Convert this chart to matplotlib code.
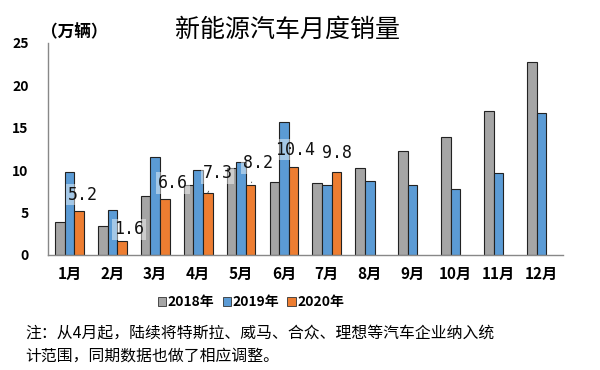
import numpy as np
import matplotlib
import matplotlib.pyplot as plt
from matplotlib.patches import Patch

matplotlib.use('agg')
plt.rcParams['font.family'] = ['Noto Sans CJK SC', 'DejaVu Sans']

months = ['1月', '2月', '3月', '4月', '5月', '6月', '7月', '8月', '9月', '10月', '11月', '12月']
sales_2018 = [3.9, 3.4, 6.9, 8.3, 10.3, 8.6, 8.5, 10.2, 12.2, 13.9, 17.0, 22.7]
sales_2019 = [9.8, 5.3, 11.6, 10.0, 10.9, 15.7, 8.3, 8.7, 8.2, 7.8, 9.7, 16.7]
sales_2020 = [5.2, 1.6, 6.6, 7.3, 8.2, 10.4, 9.8]
series_names = ['2018年', '2019年', '2020年']
colors = ['#A5A5A5', '#5B9BD5', '#ED7D31']

# label offsets (pixels) relative to top of the 2020 bars
label_dx = [4, 7, 8, 10, 7, 2, 1]
label_dy = [16, 12, 16, 20, 22, 17, 19]

fig = plt.figure(figsize=(6, 3.7), dpi=100)
ax = fig.add_axes([0.08, 0.311, 0.858, 0.573])

x = np.arange(len(months))
w = 0.224
ax.bar(x - w, sales_2018, w, color=colors[0], edgecolor='#222222', linewidth=0.8)
ax.bar(x, sales_2019, w, color=colors[1], edgecolor='#222222', linewidth=0.8)
x20 = x[:len(sales_2020)] + w
ax.bar(x20, sales_2020, w, color=colors[2], edgecolor='#222222', linewidth=0.8)

for i, v in enumerate(sales_2020):
    lead = label_dy[i] >= 20
    ax.annotate('%.1f' % v, xy=(x20[i], v), xytext=(label_dx[i], label_dy[i]),
                textcoords='offset pixels', ha='center', va='center',
                fontsize=12, family='DejaVu Sans Mono', color='#111111',
                bbox=dict(boxstyle='square,pad=0.1', fc='white', ec='none', alpha=0.45),
                arrowprops=dict(arrowstyle='-', color='#444444', lw=0.6,
                                shrinkA=6, shrinkB=2) if lead else None)

ax.set_xlim(-0.5, 11.5)
ax.set_ylim(0, 25)
ax.set_yticks([0, 5, 10, 15, 20, 25])
ax.set_xticks(x)
ax.set_xticklabels(months, fontsize=11, fontweight='bold')
ax.tick_params(axis='both', length=0)
ax.tick_params(axis='y', pad=14, labelsize=10)
ax.tick_params(axis='x', pad=8)
for t in ax.get_yticklabels():
    t.set_fontweight('bold')
for s in ['top', 'right']:
    ax.spines[s].set_visible(False)
for s in ['left', 'bottom']:
    ax.spines[s].set_color('#888888')
    ax.spines[s].set_linewidth(1.0)

fig.text(287 / 600, 1 - 30 / 370, '新能源汽车月度销量', fontsize=18, ha='center', va='center')
fig.text(41 / 600, 1 - 32 / 370, '（万辆）', fontsize=12, fontweight='bold', ha='left', va='center')

handles = [Patch(facecolor=c, edgecolor='#333333', linewidth=0.6) for c in colors]
fig.legend(handles, series_names, loc='center', bbox_to_anchor=(251 / 600, 1 - 302 / 370),
           ncol=3, frameon=False, fontsize=10, handlelength=0.6, handleheight=0.6,
           handletextpad=0.1, columnspacing=0.6, prop={'weight': 'bold', 'size': 10})

fig.text(25 / 600, 1 - 333 / 370, '注：从4月起，陆续将特斯拉、威马、合众、理想等汽车企业纳入统',
         fontsize=11.4, ha='left', va='center')
fig.text(25 / 600, 1 - 356 / 370, '计范围，同期数据也做了相应调整。',
         fontsize=11.4, ha='left', va='center')

fig.savefig('out.png', dpi=100)
